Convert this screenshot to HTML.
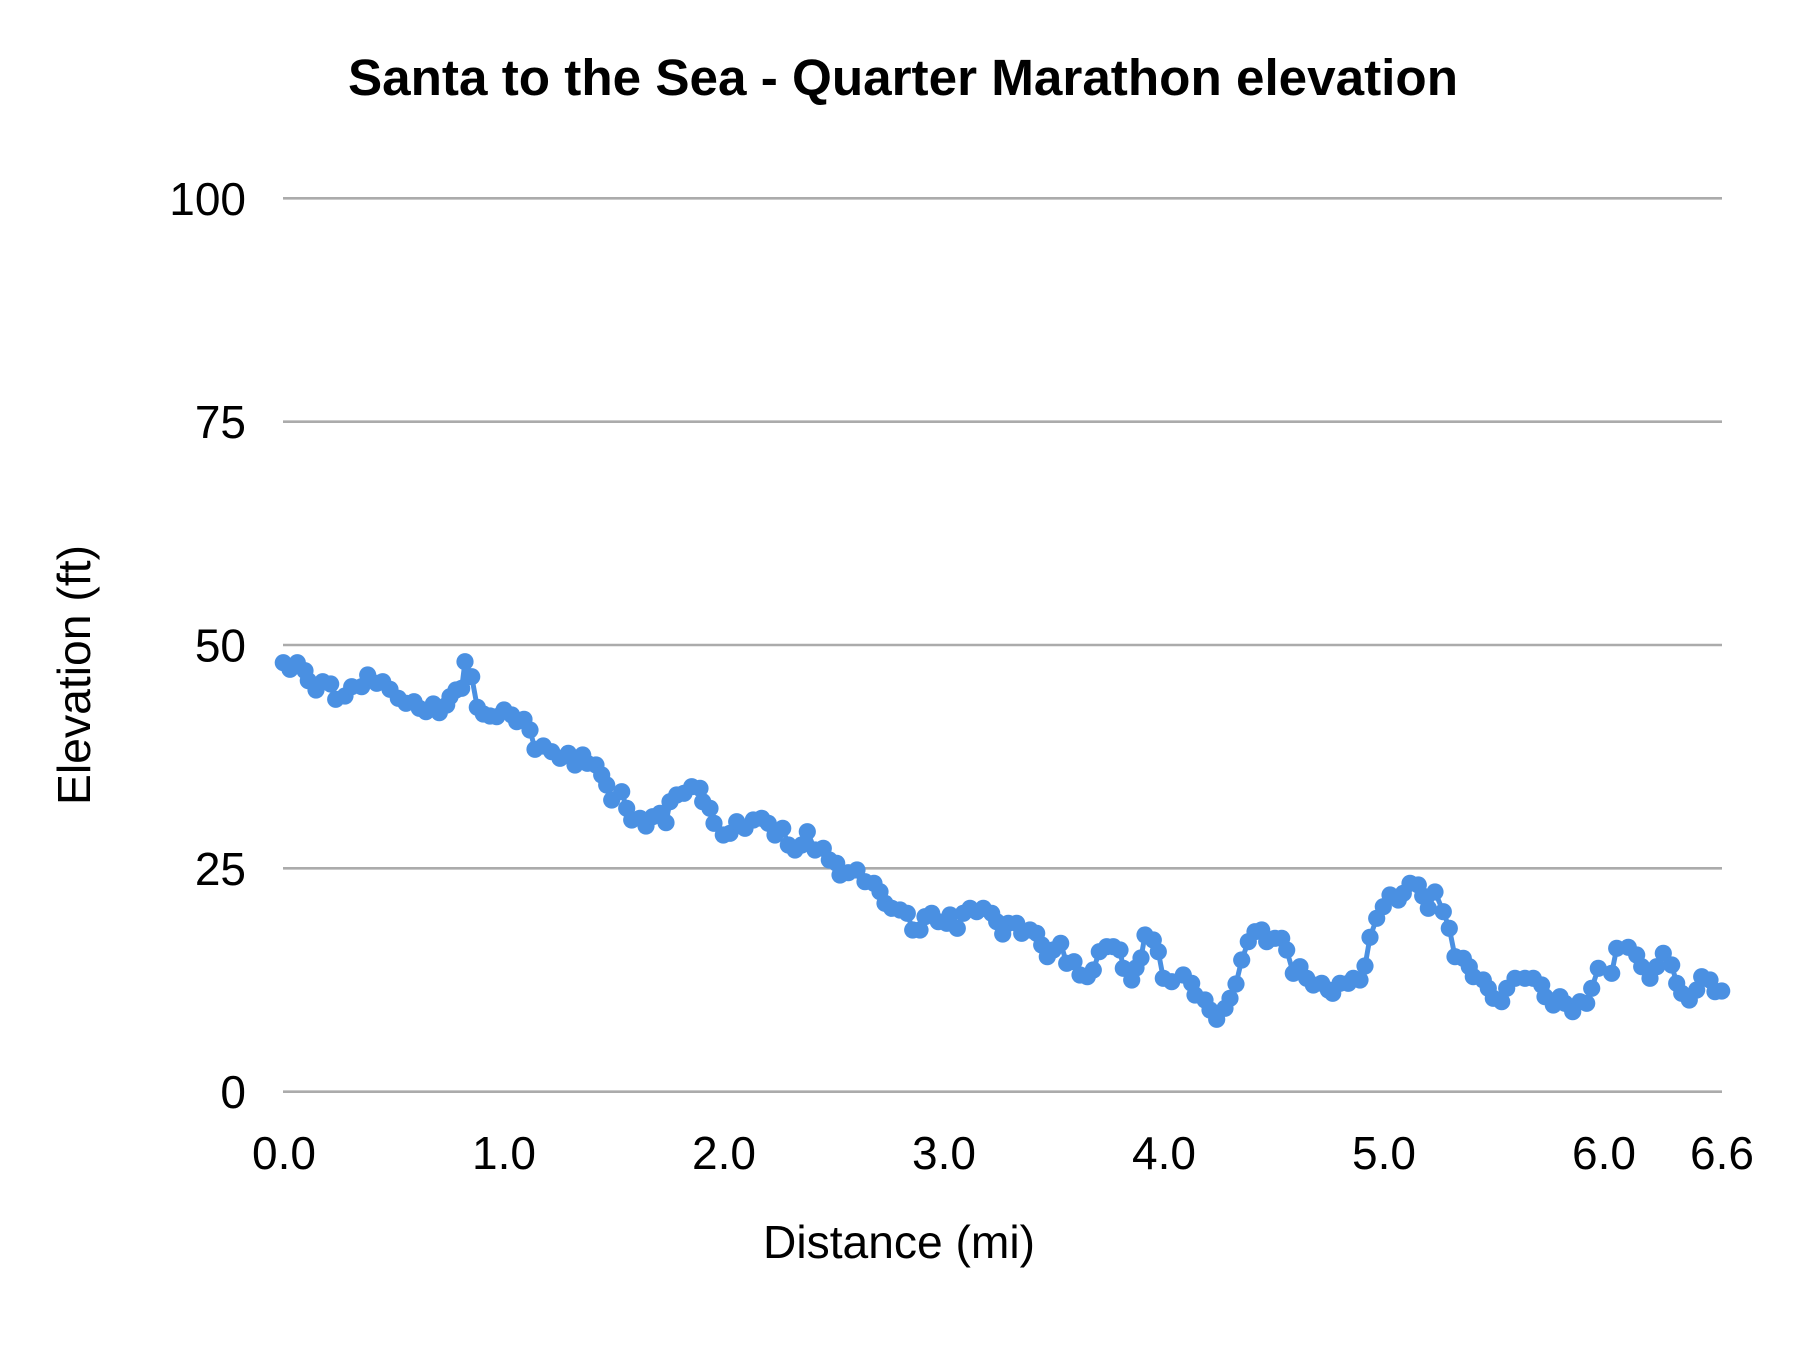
<!DOCTYPE html>
<html>
<head>
<meta charset="utf-8">
<style>
  html, body { margin: 0; padding: 0; background: #ffffff; }
  svg { display: block; }
  text { font-family: "Liberation Sans", Arial, sans-serif; fill: #000; }
</style>
</head>
<body>
<svg width="1800" height="1350" viewBox="0 0 1800 1350" xmlns="http://www.w3.org/2000/svg">
  <rect width="1800" height="1350" fill="#ffffff"/>

  <!-- Title -->
  <text x="348" y="95" font-size="51" font-weight="bold" textLength="1110" lengthAdjust="spacingAndGlyphs">Santa to the Sea - Quarter Marathon elevation</text>

  <!-- Gridlines -->
  <g stroke="#ababab" stroke-width="2.6">
    <line x1="283" y1="198.3" x2="1722" y2="198.3"/>
    <line x1="283" y1="421.7" x2="1722" y2="421.7"/>
    <line x1="283" y1="645" x2="1722" y2="645"/>
    <line x1="283" y1="868.3" x2="1722" y2="868.3"/>
    <line x1="283" y1="1091.7" x2="1722" y2="1091.7"/>
  </g>

  <!-- Y tick labels -->
  <g font-size="46" text-anchor="end">
    <text x="246" y="215">100</text>
    <text x="246" y="438">75</text>
    <text x="246" y="661.5">50</text>
    <text x="246" y="885">25</text>
    <text x="246" y="1108">0</text>
  </g>

  <!-- X tick labels -->
  <g font-size="46" text-anchor="middle">
    <text x="284" y="1169">0.0</text>
    <text x="504" y="1169">1.0</text>
    <text x="724" y="1169">2.0</text>
    <text x="944" y="1169">3.0</text>
    <text x="1164" y="1169">4.0</text>
    <text x="1384" y="1169">5.0</text>
    <text x="1604" y="1169">6.0</text>
    <text x="1722" y="1169">6.6</text>
  </g>

  <!-- Axis titles -->
  <text x="763" y="1258" font-size="46" textLength="272" lengthAdjust="spacingAndGlyphs">Distance (mi)</text>
  <text transform="translate(90,675) rotate(-90)" font-size="46" text-anchor="middle" textLength="260" lengthAdjust="spacingAndGlyphs">Elevation (ft)</text>

  <!-- Series -->
  <g id="series">
    <polyline fill="none" stroke="#4a90e2" stroke-width="5" stroke-linejoin="round" stroke-linecap="round" points="
283.3,662.7 290,669.3 297.3,662.7 305,670.7 308.3,680.7 316,690 322.7,681.7 330.7,684 335.7,699.3 345,696 351.7,686.7 361.7,686.7 367.7,675 376.7,683.3 382.7,681.7 390,689.3 398.3,698.3 406,703.3 414,701.7 419.3,708.3 426,711.7 433.3,704 439.3,712.7 446.7,705 450,696.7 456,690 461.7,688.3 465,661.7 471.7,676.7 477.3,707.3 483.3,714 490,716 496.7,716.7 504,710 511.7,715 516.7,721.7 524,719.3 530,730 535,749.3 543.3,746 551.7,751.7 560,758.3 568.3,753.3 575,765 582.7,755 587.3,763.3 596,765 601.7,775 606.7,785 611.7,800 621.7,791.7 626.7,808.3 631.7,820 640,818.3 646,826 652.7,816.7 660,813.3 666,822.7 670,801.7 676.7,795 684,793.3 691.7,786.7 700,788.3 702.7,801.7 710,808.3 714,823.3 723.3,835 730,833.3 736.7,821.7 745,828.3 753.3,820 761.7,818.3 768.3,823.3 775,835 782.7,828.3 788.3,845 795,850 801.7,845 807.3,831.7 815,850 823.3,848.3 829.3,860 836.7,863.3 840,875 848.3,872.7 857,870 865,881.7 874,883.3 880,891.7 885,903.3 891.7,908.3 900,910 907.3,913.3 912.7,930 920,930 925,916.7 931.7,913.3 938.3,921.7 946.7,923.3 950,915 957.3,928.3 963.3,913.3 970,908.3 976.7,911.7 983.3,908.3 991.7,913.3 996.7,921.7 1002.7,934 1008.3,923.3 1016.7,923.3 1021.7,933.3 1030,930 1036.7,933.3 1041.7,945 1047.3,956.7 1053.3,950 1060.7,943.3 1066.7,963.3 1074,961.7 1080,975 1087.3,976.7 1093.3,970 1099.3,951.7 1106.7,946.7 1113.3,946.7 1120,950 1123.3,968.3 1131.7,980 1136,968 1141,958 1145,935 1153.3,940 1158.3,951.7 1163.3,978.3 1171.7,981.7 1183.3,975 1191.7,983.3 1195,995 1205,1000 1210,1010 1216.7,1019.3 1225,1008.3 1230,998.3 1236,984 1241.7,960 1248.3,941.7 1255,931.7 1261.7,930 1266.7,941.7 1275,938.3 1281.7,938.3 1286.7,950 1293.3,973.3 1300,966.7 1306.7,978.3 1313.3,985 1321.7,983.3 1328.3,990 1332.7,993.3 1340,983.3 1348.3,983.3 1353.3,978.3 1360,980 1365,966 1370,937.3 1376.7,918.3 1383.3,906.7 1390,895 1398.3,900 1403.3,893.3 1410,883.3 1418.3,885 1422.7,896 1428.3,908.3 1435,892 1443.3,911.7 1449.3,928.3 1455,956.7 1463.3,958.3 1469.3,966.7 1473.3,976.7 1483.3,980 1488.3,988.3 1493.3,998.3 1501.7,1001.7 1506.7,988.3 1515,978.3 1525,978.3 1533.3,978.3 1541.7,985 1545,996.7 1553.3,1005 1560,996.7 1565,1003.3 1572.7,1011.7 1580,1001.7 1586.7,1003.3 1591.7,988.3 1598.3,968.3 1611.7,973.3 1616.7,948.3 1628.3,947.3 1636.7,955 1641.7,966.7 1650,978.3 1656.7,966.7 1663.3,953.3 1671.7,965 1676.7,983.3 1681.7,993.3 1689.3,1000 1696.7,990 1701.7,976.7 1710,980 1715,991.7 1721.7,991"/>
  </g>
  <g id="markers" fill="#4a90e2"></g>

<script>
(function(){
  var pl = document.querySelector('#series polyline');
  var pts = pl.getAttribute('points').trim().split(/\s+/);
  var g = document.getElementById('markers');
  var ns = 'http://www.w3.org/2000/svg';
  pts.forEach(function(p){
    var xy = p.split(',');
    var c = document.createElementNS(ns, 'circle');
    c.setAttribute('cx', xy[0]);
    c.setAttribute('cy', xy[1]);
    c.setAttribute('r', '8.6');
    g.appendChild(c);
  });
})();
</script>
</svg>
</body>
</html>
